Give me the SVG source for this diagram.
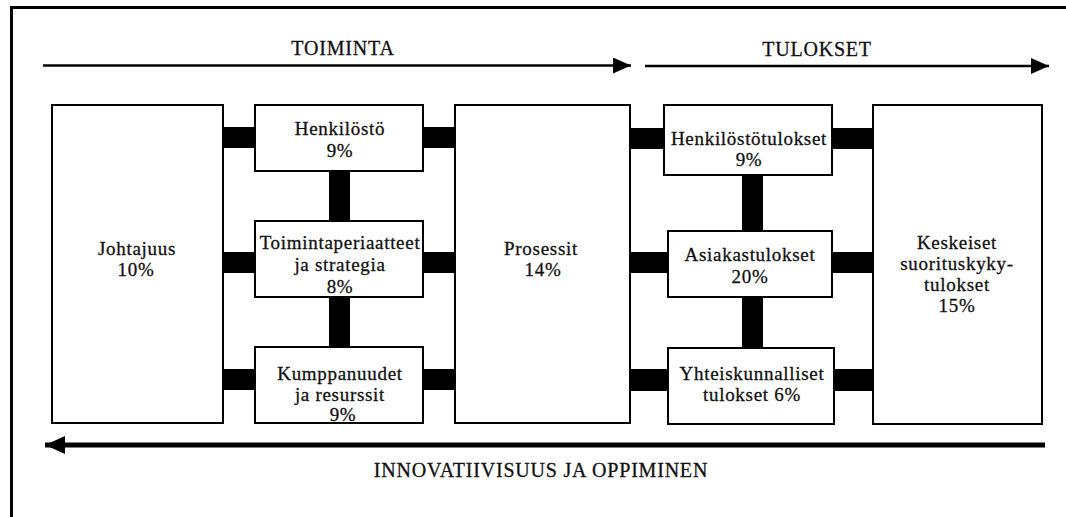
<svg xmlns="http://www.w3.org/2000/svg" width="1066" height="517" viewBox="0 0 1066 517">
<defs>
<style>
.box{fill:#fff;stroke:#000;stroke-width:2}
.bar{fill:#000}
.t{font-family:"Liberation Serif","Times New Roman",serif;font-size:19px;letter-spacing:0.7px;text-anchor:middle;fill:#111;stroke:#111;stroke-width:0.3}
.h{font-family:"Liberation Serif","Times New Roman",serif;font-size:20px;letter-spacing:0.8px;text-anchor:middle;fill:#111;stroke:#111;stroke-width:0.3}
.flow{stroke:#000;fill:none}
</style>
<marker id="ah" markerUnits="userSpaceOnUse" markerWidth="18" markerHeight="16" refX="18" refY="8" orient="auto">
<path d="M0,0 L18,8 L0,16 Z" fill="#000"/>
</marker>
<marker id="ahb" markerUnits="userSpaceOnUse" markerWidth="20" markerHeight="18" refX="20" refY="9" orient="auto">
<path d="M0,0 L20,9 L0,18 Z" fill="#000"/>
</marker>
</defs>
<rect width="1066" height="517" fill="#fff"/>
<path d="M11.5,520 V7.5 H1070" fill="none" stroke="#000" stroke-width="3"/>

<g id="flows">
<line class="flow" x1="43" y1="65.5" x2="631" y2="65.5" stroke-width="2.5" marker-end="url(#ah)"/>
<line class="flow" x1="645" y1="66" x2="1049" y2="66" stroke-width="2.5" marker-end="url(#ah)"/>
<line class="flow" x1="1045" y1="445" x2="45" y2="445" stroke-width="5" marker-end="url(#ahb)"/>
<text class="h" x="343" y="55">TOIMINTA</text>
<text class="h" x="817" y="56">TULOKSET</text>
<text class="h" x="541" y="477">INNOVATIIVISUUS JA OPPIMINEN</text>
</g>

<g id="connectors">
<rect class="bar" x="223" y="127" width="32" height="21"/>
<rect class="bar" x="423" y="127" width="32" height="21"/>
<rect class="bar" x="223" y="252" width="32" height="21"/>
<rect class="bar" x="423" y="252" width="32" height="21"/>
<rect class="bar" x="223" y="369" width="32" height="21"/>
<rect class="bar" x="423" y="369" width="32" height="21"/>
<rect class="bar" x="329" y="171" width="21" height="50"/>
<rect class="bar" x="329" y="297" width="21" height="50"/>
<rect class="bar" x="630" y="128" width="34" height="21"/>
<rect class="bar" x="832" y="128" width="41" height="21"/>
<rect class="bar" x="630" y="252" width="38" height="21"/>
<rect class="bar" x="832" y="252" width="41" height="21"/>
<rect class="bar" x="630" y="369" width="38" height="22"/>
<rect class="bar" x="834" y="369" width="39" height="22"/>
<rect class="bar" x="742" y="175" width="21" height="56"/>
<rect class="bar" x="742" y="297" width="21" height="51"/>
</g>

<g id="johtajuus">
<rect class="box" x="52" y="105" width="171" height="318"/>
<text class="t" x="137" y="255">Johtajuus</text>
<text class="t" x="136" y="276">10%</text>
</g>
<g id="henkilosto">
<rect class="box" x="255" y="105" width="168" height="66"/>
<text class="t" x="340" y="135">Henkilöstö</text>
<text class="t" x="340" y="157">9%</text>
</g>
<g id="toimintaperiaatteet">
<rect class="box" x="255" y="221" width="168" height="76"/>
<text class="t" x="340" y="249">Toimintaperiaatteet</text>
<text class="t" x="340" y="271">ja strategia</text>
<text class="t" x="340" y="293">8%</text>
</g>
<g id="kumppanuudet">
<rect class="box" x="255" y="347" width="168" height="76"/>
<text class="t" x="340" y="380">Kumppanuudet</text>
<text class="t" x="340" y="401">ja resurssit</text>
<text class="t" x="343" y="421">9%</text>
</g>
<g id="prosessit">
<rect class="box" x="455" y="105" width="175" height="318"/>
<text class="t" x="541" y="255">Prosessit</text>
<text class="t" x="543" y="276">14%</text>
</g>
<g id="henkilostotulokset">
<rect class="box" x="664" y="105" width="168" height="70"/>
<text class="t" x="749" y="145">Henkilöstötulokset</text>
<text class="t" x="749" y="166">9%</text>
</g>
<g id="asiakastulokset">
<rect class="box" x="668" y="231" width="164" height="66"/>
<text class="t" x="750" y="261">Asiakastulokset</text>
<text class="t" x="750" y="283">20%</text>
</g>
<g id="yhteiskunnalliset">
<rect class="box" x="668" y="348" width="166" height="76"/>
<text class="t" x="752" y="380">Yhteiskunnalliset</text>
<text class="t" x="752" y="401">tulokset 6%</text>
</g>
<g id="keskeiset">
<rect class="box" x="873" y="105" width="169" height="319"/>
<text class="t" x="957" y="249">Keskeiset</text>
<text class="t" x="957" y="270">suorituskyky-</text>
<text class="t" x="957" y="291">tulokset</text>
<text class="t" x="957" y="312">15%</text>
</g>
</svg>
